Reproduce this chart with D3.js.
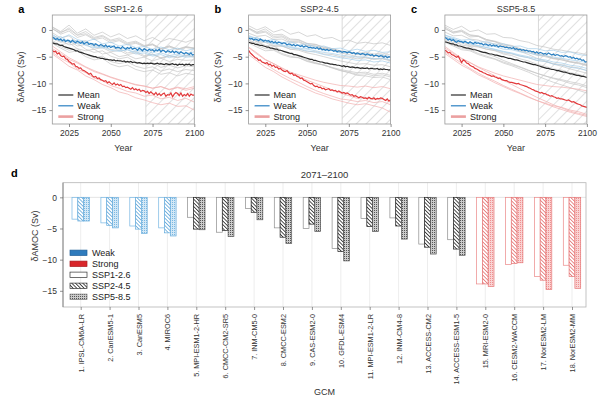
<!DOCTYPE html>
<html>
<head>
<meta charset="utf-8">
<script src="https://cdn.jsdelivr.net/npm/d3@7"></script>
<style>
body { margin: 0; background: #fff; }
svg { font-family: "Liberation Sans", Arial, sans-serif; }
</style>
</head>
<body>
<div id="chart"></div>
<script>
// ---------- data ----------
const years = d3.range(2015, 2101);
const modelYears = [2015,2020,2025,2030,2035,2040,2045,2050,2055,2060,2065,2070,2075,2080,2085,2090,2095,2100];
const scenarios = ["SSP1-2.6", "SSP2-4.5", "SSP5-8.5"];
const panelLetters = ["a", "b", "c"];
const yTicks = [0, -5, -10, -15];
const yearTicks = [2025, 2050, 2075, 2100];

const meanSsp126 = [-2.4,-2.5,-2.6,-2.6,-2.8,-2.9,-2.9,-3.1,-3.2,-3.3,
  -3.4,-3.5,-3.6,-3.7,-3.9,-3.9,-4.1,-4.2,-4.3,-4.4,
  -4.5,-4.6,-4.7,-4.8,-4.9,-5.0,-5.0,-5.2,-5.2,-5.3,
  -5.3,-5.4,-5.5,-5.5,-5.6,-5.6,-5.7,-5.6,-5.8,-5.7,
  -5.8,-5.8,-5.9,-5.8,-6.0,-5.9,-6.0,-5.9,-6.1,-6.0,
  -6.1,-6.2,-6.1,-6.2,-6.3,-6.2,-6.3,-6.2,-6.3,-6.2,
  -6.3,-6.4,-6.3,-6.2,-6.4,-6.3,-6.4,-6.5,-6.3,-6.4,
  -6.5,-6.4,-6.3,-6.5,-6.4,-6.6,-6.4,-6.5,-6.4,-6.6,
  -6.4,-6.5,-6.4,-6.6,-6.5,-6.5];
const weakSsp126 = [-1.3,-1.5,-1.8,-1.6,-1.9,-1.7,-2.0,-1.8,-2.2,-1.9,
  -2.0,-2.3,-1.9,-2.2,-2.4,-2.1,-2.3,-2.5,-2.2,-2.6,
  -2.4,-2.3,-2.7,-2.5,-2.6,-2.9,-2.6,-2.8,-3.0,-2.7,
  -2.9,-3.1,-2.8,-3.2,-3.0,-3.3,-3.1,-3.0,-3.4,-3.2,
  -3.3,-3.5,-3.1,-3.4,-3.6,-3.3,-3.5,-3.2,-3.6,-3.4,
  -3.5,-3.8,-3.4,-3.6,-3.9,-3.5,-3.7,-3.9,-3.6,-3.8,
  -3.7,-4.0,-3.7,-3.9,-3.6,-4.1,-3.8,-3.9,-4.2,-3.9,
  -4.0,-4.2,-3.9,-4.3,-4.0,-4.2,-4.4,-4.1,-4.3,-4.5,
  -4.2,-4.4,-4.6,-4.3,-4.7,-4.6];
const strongSsp126 = [-3.8,-4.1,-4.0,-4.5,-4.3,-4.8,-5.0,-4.9,-5.4,-5.5,
  -5.9,-6.1,-6.4,-6.3,-6.8,-6.9,-7.2,-7.1,-7.5,-7.6,
  -7.8,-8.0,-8.3,-8.1,-8.6,-8.8,-8.7,-9.1,-9.0,-9.3,
  -9.4,-9.6,-9.5,-9.9,-9.7,-10.0,-10.2,-9.9,-10.3,-10.1,
  -10.4,-10.2,-10.6,-10.5,-10.8,-10.7,-10.9,-11.1,-10.8,-11.2,
  -11.0,-11.3,-11.1,-11.5,-11.3,-11.4,-11.7,-11.5,-11.9,-11.6,
  -11.9,-12.1,-11.7,-12.2,-11.9,-12.3,-12.0,-11.8,-12.4,-12.1,
  -12.2,-11.8,-12.5,-12.0,-11.7,-11.9,-12.3,-11.8,-12.4,-12.1,
  -12.3,-11.9,-12.4,-12.0,-12.2,-12.2];

const meanSsp245 = [-2.3,-2.4,-2.5,-2.5,-2.7,-2.7,-2.8,-2.9,-2.9,-3.0,
  -3.1,-3.2,-3.2,-3.4,-3.4,-3.5,-3.6,-3.6,-3.8,-3.8,
  -3.9,-4.0,-4.1,-4.2,-4.3,-4.4,-4.4,-4.6,-4.6,-4.7,
  -4.8,-4.9,-5.0,-5.1,-5.2,-5.3,-5.4,-5.5,-5.5,-5.7,
  -5.7,-5.8,-5.9,-6.0,-6.0,-6.1,-6.2,-6.2,-6.3,-6.4,
  -6.4,-6.5,-6.5,-6.6,-6.6,-6.7,-6.8,-6.7,-6.9,-6.8,
  -6.9,-7.0,-6.9,-7.0,-7.1,-7.0,-7.1,-7.2,-7.1,-7.2,
  -7.2,-7.1,-7.3,-7.2,-7.2,-7.3,-7.3,-7.2,-7.4,-7.3,
  -7.4,-7.3,-7.4,-7.4,-7.5,-7.4];
const weakSsp245 = [-1.5,-1.7,-1.6,-1.9,-1.7,-1.8,-2.0,-1.7,-1.9,-2.1,
  -1.9,-2.1,-2.0,-2.3,-2.1,-2.4,-2.2,-2.5,-2.3,-2.4,
  -2.6,-2.4,-2.5,-2.8,-2.6,-2.7,-2.9,-2.7,-3.0,-2.8,
  -2.9,-3.1,-2.9,-3.2,-3.0,-3.1,-3.3,-3.2,-3.4,-3.3,
  -3.5,-3.3,-3.6,-3.4,-3.7,-3.6,-3.8,-3.6,-3.9,-3.7,
  -3.8,-4.0,-3.8,-4.1,-3.9,-4.0,-4.2,-4.0,-4.1,-4.3,
  -4.1,-4.2,-4.4,-4.2,-4.5,-4.3,-4.4,-4.6,-4.4,-4.5,
  -4.7,-4.5,-4.6,-4.8,-4.6,-4.9,-4.7,-4.8,-5.0,-4.8,
  -4.9,-5.1,-4.9,-5.2,-5.0,-5.1];
const strongSsp245 = [-3.8,-4.3,-4.6,-4.9,-5.2,-5.3,-5.7,-5.6,-6.0,-6.1,
  -6.3,-6.1,-6.5,-6.4,-6.8,-6.6,-7.0,-6.9,-7.3,-7.2,
  -7.5,-7.7,-7.8,-7.6,-8.0,-8.2,-8.1,-8.5,-8.4,-8.7,
  -8.8,-9.1,-9.0,-9.4,-9.5,-9.7,-9.9,-10.1,-10.0,-10.4,
  -10.6,-10.5,-10.8,-10.7,-11.0,-10.9,-11.2,-11.1,-11.0,-11.3,
  -11.2,-11.4,-11.3,-11.6,-11.4,-11.6,-11.8,-11.7,-11.9,-11.8,
  -12.0,-12.2,-12.1,-12.4,-12.3,-12.5,-12.7,-12.5,-12.6,-12.8,
  -12.7,-12.9,-12.6,-12.8,-12.9,-12.7,-13.0,-12.8,-12.9,-12.7,
  -12.8,-13.0,-13.2,-12.9,-13.3,-13.1];

const meanSsp585 = [-2.2,-2.3,-2.4,-2.5,-2.6,-2.6,-2.8,-2.8,-3.0,-3.0,
  -3.1,-3.2,-3.3,-3.4,-3.4,-3.5,-3.6,-3.7,-3.7,-3.8,
  -3.9,-4.0,-4.1,-4.2,-4.2,-4.3,-4.4,-4.5,-4.5,-4.6,
  -4.7,-4.7,-4.8,-4.9,-5.0,-5.0,-5.1,-5.2,-5.3,-5.3,
  -5.4,-5.5,-5.6,-5.6,-5.7,-5.8,-5.9,-6.0,-6.0,-6.1,
  -6.2,-6.3,-6.4,-6.5,-6.5,-6.6,-6.7,-6.8,-6.9,-7.0,
  -7.1,-7.2,-7.2,-7.3,-7.4,-7.4,-7.5,-7.6,-7.6,-7.7,
  -7.8,-7.9,-7.9,-8.0,-8.1,-8.2,-8.2,-8.3,-8.4,-8.5,
  -8.5,-8.6,-8.7,-8.7,-8.8,-8.9];
const weakSsp585 = [-1.4,-1.6,-1.9,-1.7,-2.0,-1.8,-2.1,-2.3,-2.0,-2.2,
  -2.2,-2.4,-2.1,-2.3,-2.5,-2.2,-2.4,-2.6,-2.3,-2.5,
  -2.4,-2.6,-2.5,-2.8,-2.6,-2.7,-2.9,-2.7,-3.0,-2.8,
  -3.0,-2.9,-3.2,-3.0,-3.1,-3.1,-3.3,-3.2,-3.4,-3.3,
  -3.5,-3.3,-3.6,-3.5,-3.7,-3.6,-3.8,-3.7,-3.9,-3.8,
  -4.0,-3.9,-4.1,-4.0,-4.3,-4.1,-4.4,-4.2,-4.3,-4.5,
  -4.4,-4.6,-4.3,-4.5,-4.7,-4.5,-4.8,-4.6,-4.7,-4.9,
  -4.8,-5.0,-4.8,-4.9,-5.1,-5.0,-5.3,-5.1,-5.4,-5.3,
  -5.5,-5.4,-5.7,-5.6,-6.0,-5.9];
const strongSsp585 = [-3.8,-4.0,-4.3,-4.2,-4.6,-4.7,-4.9,-5.1,-4.9,-5.5,
  -6.1,-5.6,-5.8,-6.2,-6.3,-6.6,-6.8,-6.9,-7.2,-7.3,
  -7.5,-7.7,-7.8,-8.0,-8.1,-8.3,-8.4,-8.5,-8.7,-8.6,
  -8.8,-8.9,-9.1,-9.0,-9.3,-9.4,-9.5,-9.5,-9.7,-9.8,
  -9.8,-9.9,-10.0,-10.1,-10.0,-10.2,-10.3,-10.4,-10.5,-10.6,
  -10.8,-10.9,-11.1,-11.2,-11.4,-11.5,-11.6,-11.8,-11.7,-11.9,
  -11.9,-12.1,-12.2,-12.4,-12.3,-12.5,-12.6,-12.8,-12.7,-12.9,
  -12.9,-13.0,-13.1,-13.2,-13.1,-13.3,-13.5,-13.4,-13.6,-13.8,
  -13.9,-14.0,-14.2,-14.3,-14.4,-14.5];

// single models, every 5 years (same order as gcmNames)
const modelsSsp126 = [
  [-1.0,-1.6,-0.9,-1.8,-2.2,-1.7,-2.6,-2.3,-3.0,-2.7,-3.3,-3.1,-3.6,-3.2,-3.7,-3.4,-3.9,-3.5],
  [-1.8,-1.2,-2.3,-2.0,-2.8,-2.5,-3.2,-2.9,-3.6,-3.3,-3.9,-3.7,-4.3,-3.8,-4.2,-4.0,-4.4,-4.1],
  [-1.5,-2.1,-1.9,-2.6,-2.4,-3.1,-3.4,-3.0,-3.9,-3.7,-4.2,-4.0,-4.7,-4.3,-4.8,-4.5,-4.9,-4.6],
  [-0.8,-1.9,-2.2,-2.0,-2.9,-3.3,-3.1,-3.8,-4.0,-3.7,-4.5,-4.3,-4.9,-4.6,-5.2,-4.8,-5.1,-5.0],
  [0.3,-0.8,-0.2,-1.4,-0.9,-1.8,-1.5,-2.4,-2.0,-2.8,-2.5,-3.1,-2.7,-3.5,-3.0,-3.6,-3.2,-3.4],
  [-2.0,-2.8,-2.4,-3.5,-3.9,-3.6,-4.5,-4.2,-5.0,-4.7,-5.4,-5.1,-5.8,-5.3,-5.9,-5.5,-5.7,-5.6],
  [0.6,-0.3,0.9,-0.6,0.2,-1.0,-0.4,-1.3,-0.7,-1.6,-1.1,-2.0,-1.4,-2.2,-1.6,-1.9,-2.3,-1.7],
  [-1.6,-2.3,-2.0,-3.0,-2.7,-3.6,-3.3,-4.1,-3.8,-4.6,-4.3,-5.0,-4.6,-5.2,-4.8,-5.1,-4.7,-5.0],
  [-0.5,-1.5,-1.1,-2.3,-2.0,-3.0,-2.8,-3.7,-3.4,-4.3,-4.0,-4.8,-4.5,-5.3,-4.9,-5.2,-4.8,-5.1],
  [-2.5,-3.4,-4.2,-3.9,-5.0,-5.6,-5.3,-6.4,-6.9,-6.6,-7.4,-7.8,-7.5,-8.3,-8.0,-8.6,-8.1,-8.4],
  [0.5,-0.4,0.1,-1.0,-0.7,-1.6,-1.2,-2.1,-1.8,-2.6,-2.3,-3.0,-2.8,-3.6,-3.2,-3.7,-3.3,-3.5],
  [0.2,-0.6,0.4,-0.9,-0.3,-1.4,-1.0,-1.9,-1.5,-2.4,-2.1,-2.9,-2.6,-3.5,-3.0,-3.6,-3.1,-3.4],
  [-2.2,-3.1,-3.8,-3.5,-4.6,-5.2,-4.9,-5.9,-6.3,-6.0,-6.8,-7.2,-6.9,-7.7,-7.3,-7.8,-7.4,-7.6],
  [-1.2,-2.0,-2.8,-2.5,-3.6,-4.2,-3.9,-4.9,-5.4,-5.1,-6.0,-6.4,-6.1,-7.0,-6.6,-7.1,-6.7,-6.9],
  [-4.5,-5.6,-6.8,-7.5,-8.6,-9.3,-10.2,-10.8,-11.6,-12.0,-12.7,-13.1,-13.6,-14.0,-13.7,-14.3,-14.2,-15.0],
  [-3.5,-4.4,-5.5,-6.2,-7.0,-7.8,-8.3,-8.9,-9.4,-9.8,-10.3,-10.5,-10.9,-10.6,-11.1,-10.7,-11.0,-10.6],
  [-4.2,-5.3,-6.1,-7.3,-8.0,-9.0,-9.5,-10.4,-10.9,-11.5,-11.8,-12.4,-12.2,-12.9,-12.6,-13.2,-12.8,-13.5],
  [-3.0,-4.1,-5.2,-6.0,-6.9,-7.6,-8.2,-8.8,-9.3,-9.8,-10.2,-10.5,-10.9,-10.6,-11.2,-10.8,-11.3,-10.9]
];
const modelsSsp245 = [
  [-1.2,-1.5,-2.0,-1.8,-2.4,-2.2,-2.8,-2.6,-3.2,-3.0,-3.5,-3.4,-3.9,-3.6,-4.0,-3.8,-4.2,-4.1],
  [-1.6,-1.4,-2.2,-2.5,-2.3,-3.0,-2.9,-3.5,-3.3,-3.9,-3.8,-4.3,-4.1,-4.6,-4.4,-4.8,-4.6,-5.0],
  [-1.4,-2.0,-1.9,-2.6,-2.8,-3.2,-3.4,-3.6,-3.9,-4.2,-4.4,-4.7,-4.9,-5.1,-5.0,-5.4,-5.3,-5.6],
  [-1.0,-1.8,-2.3,-2.4,-3.0,-3.3,-3.6,-3.9,-4.2,-4.6,-4.9,-5.2,-5.4,-5.7,-5.6,-6.0,-5.8,-6.2],
  [0.2,-0.7,-0.4,-1.5,-1.3,-2.2,-2.1,-2.9,-3.0,-3.6,-3.8,-4.3,-4.6,-5.0,-5.2,-5.4,-5.3,-5.7],
  [-1.9,-2.5,-2.3,-3.1,-3.0,-3.6,-3.5,-4.1,-4.0,-4.5,-4.6,-5.0,-5.1,-5.4,-5.2,-5.5,-5.4,-5.8],
  [0.8,0.0,0.6,-0.4,0.1,-0.8,-0.4,-1.2,-0.9,-1.6,-1.4,-2.1,-1.9,-2.5,-2.3,-2.6,-2.4,-2.9],
  [-1.4,-2.2,-2.0,-2.9,-3.0,-3.6,-3.8,-4.3,-4.6,-5.0,-5.4,-5.8,-6.1,-6.4,-6.3,-6.6,-6.5,-6.9],
  [-0.6,-1.2,-1.0,-1.8,-1.7,-2.4,-2.3,-2.9,-3.0,-3.5,-3.6,-4.0,-4.1,-4.4,-4.2,-4.5,-4.3,-4.7],
  [-2.4,-3.2,-3.9,-3.8,-4.6,-5.1,-5.2,-5.9,-6.3,-6.5,-7.1,-7.6,-8.0,-8.5,-8.6,-8.9,-8.8,-9.3],
  [0.4,-0.5,-0.2,-1.2,-1.1,-1.9,-1.9,-2.6,-2.7,-3.3,-3.5,-4.0,-4.2,-4.6,-4.7,-4.9,-4.8,-5.2],
  [0.3,-0.4,0.2,-0.9,-0.8,-1.7,-1.8,-2.5,-2.7,-3.2,-3.5,-3.9,-4.2,-4.5,-4.6,-4.8,-4.7,-5.1],
  [-2.0,-2.9,-3.5,-3.6,-4.4,-4.9,-5.2,-5.8,-6.2,-6.6,-7.0,-7.4,-7.7,-8.0,-7.9,-8.3,-8.1,-8.5],
  [-1.3,-2.2,-2.9,-3.0,-3.9,-4.5,-4.9,-5.6,-6.1,-6.6,-7.1,-7.6,-7.9,-8.3,-8.2,-8.6,-8.4,-8.8],
  [-4.6,-5.8,-7.0,-7.8,-8.8,-9.6,-10.4,-11.1,-11.8,-12.3,-12.9,-13.3,-13.7,-14.0,-13.8,-14.2,-14.6,-15.4],
  [-3.3,-4.5,-5.6,-6.3,-7.1,-7.9,-8.4,-8.9,-9.4,-9.8,-10.1,-10.4,-10.5,-10.7,-10.5,-10.8,-10.6,-11.0],
  [-4.0,-5.4,-6.3,-7.4,-8.3,-9.1,-9.8,-10.6,-11.3,-11.9,-12.4,-12.9,-13.1,-13.4,-13.2,-13.6,-13.4,-14.0],
  [-3.2,-4.3,-5.5,-6.3,-7.2,-8.0,-8.7,-9.4,-10.0,-10.6,-11.2,-11.8,-12.3,-12.8,-12.6,-13.0,-12.9,-13.5]
];
const modelsSsp585 = [
  [-1.0,-1.4,-1.9,-1.8,-2.3,-2.2,-2.7,-2.6,-3.1,-3.0,-3.5,-3.5,-3.9,-3.8,-4.2,-4.1,-4.6,-4.8],
  [-1.5,-1.6,-2.2,-2.4,-2.5,-3.0,-3.1,-3.6,-3.7,-4.1,-4.3,-4.7,-4.8,-5.1,-5.3,-5.6,-5.8,-6.1],
  [-1.3,-1.9,-2.1,-2.6,-2.9,-3.3,-3.6,-4.0,-4.3,-4.7,-5.0,-5.4,-5.6,-6.0,-6.2,-6.6,-6.8,-7.2],
  [-0.9,-1.7,-2.2,-2.5,-3.0,-3.3,-3.7,-4.1,-4.4,-4.9,-5.2,-5.7,-5.9,-6.4,-6.6,-7.0,-7.2,-7.6],
  [0.4,-0.6,-0.3,-1.3,-1.2,-2.0,-2.2,-2.8,-3.0,-3.6,-3.9,-4.5,-4.8,-5.3,-5.4,-5.9,-6.1,-6.5],
  [-1.8,-2.4,-2.4,-3.0,-3.2,-3.6,-3.8,-4.3,-4.5,-4.9,-5.2,-5.7,-5.9,-6.3,-6.5,-6.9,-7.1,-7.6],
  [0.9,0.1,0.7,-0.3,0.0,-0.8,-0.7,-1.4,-1.5,-2.0,-2.3,-2.9,-3.2,-3.6,-3.8,-4.1,-4.3,-4.6],
  [-1.3,-2.0,-2.1,-2.8,-3.1,-3.6,-3.9,-4.5,-4.8,-5.4,-5.8,-6.4,-6.8,-7.3,-7.5,-8.0,-8.3,-8.8],
  [-0.4,-1.1,-1.0,-1.7,-1.9,-2.4,-2.6,-3.1,-3.4,-3.9,-4.2,-4.7,-5.0,-5.4,-5.6,-6.0,-6.2,-6.6],
  [-2.3,-3.0,-3.7,-3.9,-4.6,-5.1,-5.5,-6.2,-6.7,-7.3,-7.9,-8.6,-9.2,-9.8,-10.3,-10.8,-11.3,-11.8],
  [0.6,-0.3,-0.2,-1.0,-1.2,-1.8,-2.1,-2.6,-2.9,-3.5,-3.9,-4.5,-4.8,-5.3,-5.6,-6.0,-6.3,-6.7],
  [0.2,-0.5,0.0,-0.9,-1.1,-1.8,-2.2,-2.9,-3.4,-4.0,-4.6,-5.3,-5.8,-6.4,-6.8,-7.3,-7.7,-8.1],
  [-2.0,-2.8,-3.4,-3.7,-4.4,-4.9,-5.4,-6.0,-6.5,-7.0,-7.6,-8.1,-8.6,-9.0,-9.3,-9.7,-10.0,-10.5],
  [-1.2,-2.1,-2.8,-3.1,-3.9,-4.5,-5.0,-5.7,-6.3,-6.9,-7.5,-8.1,-8.6,-9.1,-9.5,-10.0,-10.3,-10.8],
  [-4.4,-5.5,-6.6,-7.4,-8.4,-9.1,-9.9,-10.6,-11.3,-11.9,-12.6,-13.2,-13.7,-14.2,-14.5,-15.0,-15.3,-15.8],
  [-3.4,-4.4,-5.4,-6.1,-6.9,-7.5,-8.1,-8.6,-9.0,-9.4,-9.8,-10.2,-10.4,-10.6,-10.7,-10.9,-11.1,-11.4],
  [-4.1,-5.2,-6.2,-7.2,-8.1,-8.9,-9.6,-10.4,-11.1,-11.8,-12.5,-13.2,-13.8,-14.4,-14.9,-15.4,-15.8,-16.2],
  [-3.1,-4.2,-5.3,-6.1,-7.0,-7.8,-8.6,-9.4,-10.2,-11.0,-11.8,-12.6,-13.3,-14.0,-14.6,-15.2,-15.6,-16.0]
];

// panel d: 2071-2100 mean per GCM
const gcmNames = ["1. IPSL-CM6A-LR", "2. CanESM5-1", "3. CanESM5", "4. MIROC6", "5. MPI-ESM1-2-HR",
  "6. CMCC-CM2-SR5", "7. INM-CM5-0", "8. CMCC-ESM2", "9. CAS-ESM2-0", "10. GFDL-ESM4",
  "11. MPI-ESM1-2-LR", "12. INM-CM4-8", "13. ACCESS-CM2", "14. ACCESS-ESM1-5", "15. MRI-ESM2-0",
  "16. CESM2-WACCM", "17. NorESM2-LM", "18. NorESM2-MM"];
const gcmGroup = ["weak","weak","weak","weak","mid","mid","mid","mid","mid","mid",
  "mid","mid","mid","mid","strong","strong","strong","strong"];
const barSsp126 = [-3.5,-4.1,-4.6,-4.9,-3.2,-5.6,-1.8,-4.9,-5.0,-8.2,-3.4,-3.3,-7.5,-6.8,-13.9,-10.8,-12.7,-10.9];
const barSsp245 = [-3.8,-4.5,-5.1,-5.7,-5.1,-5.3,-2.4,-6.4,-4.3,-8.7,-4.7,-4.6,-8.0,-8.3,-13.9,-10.6,-13.3,-12.7];
const barSsp585 = [-3.8,-4.9,-5.8,-6.2,-5.2,-6.3,-3.6,-7.4,-5.5,-10.2,-5.5,-6.7,-9.1,-9.3,-14.3,-10.5,-14.8,-14.6];

// ---------- drawing ----------
const W = 606, H = 396;
const svg = d3.select("#chart").append("svg")
  .attr("width", W).attr("height", H)
  .style("background", "#fff");
const defs = svg.append("defs");

const faint = { weak: "#a6cee9", mid: "#c5c5c5", strong: "#f2afaf" };
const barLine = { weak: "#76b6e2", mid: "#8c8c8c", strong: "#ec8888" };
const hatchLine = { weak: "#5fa6d9", mid: "#222", strong: "#e36d6d" };
const dotBg = { weak: "#d3e8f6", mid: "#cbcbcb", strong: "#f9d3d3" };
const dotFg = { weak: "#7ab7e1", mid: "#555", strong: "#ee9090" };
const hatchEdge = { weak: "#6aaedd", mid: "#222", strong: "#e67777" };
const dotEdge = { weak: "#6aaedd", mid: "#555", strong: "#e67777" };

// pattern for the 2071-2100 window
let per = defs.append("pattern").attr("id", "period")
  .attr("patternUnits", "userSpaceOnUse")
  .attr("width", 7).attr("height", 7)
  .attr("patternTransform", "rotate(45)");
per.append("line").attr("x1", 3.5).attr("y1", 0).attr("x2", 3.5).attr("y2", 7)
  .attr("stroke", "#d2d2d2").attr("stroke-width", 0.7);

Object.keys(hatchLine).forEach(k => {
  let h = defs.append("pattern").attr("id", "hatch-" + k)
    .attr("patternUnits", "userSpaceOnUse")
    .attr("width", 2.6).attr("height", 2.6)
    .attr("patternTransform", "rotate(-45)");
  h.append("rect").attr("width", 2.6).attr("height", 2.6).attr("fill", "#fff");
  h.append("line").attr("x1", 1.3).attr("y1", 0).attr("x2", 1.3).attr("y2", 2.6)
    .attr("stroke", hatchLine[k]).attr("stroke-width", 0.8);
  let dp = defs.append("pattern").attr("id", "dots-" + k)
    .attr("patternUnits", "userSpaceOnUse")
    .attr("width", 2).attr("height", 2);
  dp.append("rect").attr("width", 2).attr("height", 2).attr("fill", dotBg[k]);
  dp.append("rect").attr("width", 1).attr("height", 1).attr("fill", dotFg[k]);
});

function styleAxis(g) {
  g.select(".domain").remove();
  g.selectAll(".tick line").attr("stroke", "#666").attr("stroke-width", 0.7);
  g.selectAll(".tick text").attr("fill", "#333").style("font-size", "8.5px");
}

// ---- panels a-c ----
const panelData = [
  { mean: meanSsp126, weak: weakSsp126, strong: strongSsp126, models: modelsSsp126 },
  { mean: meanSsp245, weak: weakSsp245, strong: strongSsp245, models: modelsSsp245 },
  { mean: meanSsp585, weak: weakSsp585, strong: strongSsp585, models: modelsSsp585 }
];
const pTop = 15, pBottom = 124, pWidth = 142;
const yTop = d3.scaleLinear().domain([-17.6, 2.8]).range([pBottom, pTop]);

panelData.forEach((p, i) => {
  let left = 52.3 + i * 196.3;
  let x = d3.scaleLinear().domain([2015, 2100]).range([left, left + pWidth]);
  let g = svg.append("g");

  defs.append("clipPath").attr("id", "clip" + i)
    .append("rect").attr("x", left).attr("y", pTop)
    .attr("width", pWidth).attr("height", pBottom - pTop);

  g.append("rect")
    .attr("x", x(2071)).attr("y", pTop)
    .attr("width", x(2100) - x(2071)).attr("height", pBottom - pTop)
    .attr("fill", "url(#period)");
  g.append("line")
    .attr("x1", x(2071)).attr("x2", x(2071))
    .attr("y1", pTop).attr("y2", pBottom)
    .attr("stroke", "#cfcfcf").attr("stroke-width", 0.8);

  let plot = g.append("g").attr("clip-path", "url(#clip" + i + ")");
  let modelLine = d3.line()
    .x((d, j) => x(modelYears[j]))
    .y(d => yTop(d));
  let order = ["mid", "weak", "strong"];
  order.forEach(grp => {
    p.models.forEach((m, k) => {
      if (gcmGroup[k] !== grp) return;
      plot.append("path")
        .attr("d", modelLine(m))
        .attr("fill", "none")
        .attr("stroke", faint[grp])
        .attr("stroke-width", 0.7);
    });
  });

  let mainLine = d3.line()
    .x((d, j) => x(years[j]))
    .y(d => yTop(d));
  plot.append("path").attr("d", mainLine(p.mean))
    .attr("fill", "none").attr("stroke", "#2b2b2b").attr("stroke-width", 1.2);
  plot.append("path").attr("d", mainLine(p.weak))
    .attr("fill", "none").attr("stroke", "#2b80c2").attr("stroke-width", 1.2);
  plot.append("path").attr("d", mainLine(p.strong))
    .attr("fill", "none").attr("stroke", "#e23a3c").attr("stroke-width", 1.2);

  // frame
  g.append("rect")
    .attr("x", left).attr("y", pTop)
    .attr("width", pWidth).attr("height", pBottom - pTop)
    .attr("fill", "none").attr("stroke", "#9a9a9a").attr("stroke-width", 0.8);

  g.append("g")
    .attr("transform", "translate(" + left + ",0)")
    .call(d3.axisLeft(yTop).tickValues(yTicks).tickSize(3).tickPadding(3))
    .call(styleAxis);
  g.append("g")
    .attr("transform", "translate(0," + pBottom + ")")
    .call(d3.axisBottom(x).tickValues(yearTicks).tickSize(3).tickPadding(3).tickFormat(d3.format("d")))
    .call(styleAxis);

  // legend
  let leg = [
    { label: "Mean", color: "#2b2b2b", w: 1.2 },
    { label: "Weak", color: "#2b80c2", w: 1.2 },
    { label: "Strong", color: "#eba0a0", w: 2.6 }
  ];
  leg.forEach((l, j) => {
    let ly = 95 + j * 10.8;
    g.append("line")
      .attr("x1", left + 6).attr("x2", left + 21)
      .attr("y1", ly).attr("y2", ly)
      .attr("stroke", l.color).attr("stroke-width", l.w);
    g.append("text")
      .attr("x", left + 25).attr("y", ly + 3.2)
      .attr("fill", "#222").style("font-size", "9px")
      .text(l.label);
  });

  g.append("text")
    .attr("x", left + pWidth / 2).attr("y", 11.5)
    .attr("text-anchor", "middle")
    .attr("fill", "#333").style("font-size", "9px")
    .text(scenarios[i]);
  g.append("text")
    .attr("x", left - 34).attr("y", 13)
    .attr("fill", "#000").style("font-size", "11px").style("font-weight", "bold")
    .text(panelLetters[i]);
  g.append("text")
    .attr("transform", "translate(" + (left - 28) + ",77) rotate(-90)")
    .attr("text-anchor", "middle")
    .attr("fill", "#333").style("font-size", "9px")
    .text("δAMOC (Sv)");
  g.append("text")
    .attr("x", left + pWidth / 2).attr("y", 151)
    .attr("text-anchor", "middle")
    .attr("fill", "#333").style("font-size", "9px")
    .text("Year");
});

// ---- panel d ----
const dLeft = 63, dRight = 586, dTop = 182.7, dBottom = 307;
const bx = d3.scalePoint().domain(gcmNames).range([80.7, 572]);
const inner = d3.scaleBand().domain(scenarios).range([-8.7, 8.7]);
const by = d3.scaleLinear().domain([-17.6, 2.35]).range([dBottom, dTop]);
const barValues = [barSsp126, barSsp245, barSsp585];

let gd = svg.append("g");
gcmNames.forEach(n => {
  gd.append("line")
    .attr("x1", bx(n)).attr("x2", bx(n))
    .attr("y1", dTop).attr("y2", dBottom)
    .attr("stroke", "#e8e8e8").attr("stroke-width", 0.8);
});
gd.append("line")
  .attr("x1", dLeft).attr("x2", dRight)
  .attr("y1", by(0)).attr("y2", by(0))
  .attr("stroke", "#dcdcdc").attr("stroke-width", 0.8);

gcmNames.forEach((n, i) => {
  let grp = gcmGroup[i];
  scenarios.forEach((s, j) => {
    let v = barValues[j][i];
    let fill = j === 0 ? "#fff" : (j === 1 ? "url(#hatch-" + grp + ")" : "url(#dots-" + grp + ")");
    let edge = j === 0 ? barLine[grp] : (j === 1 ? hatchEdge[grp] : dotEdge[grp]);
    gd.append("rect")
      .attr("x", bx(n) + inner(s))
      .attr("y", by(0))
      .attr("width", inner.bandwidth())
      .attr("height", by(v) - by(0))
      .attr("fill", fill)
      .attr("stroke", edge)
      .attr("stroke-width", 0.7);
  });
});

gd.append("rect")
  .attr("x", dLeft).attr("y", dTop)
  .attr("width", dRight - dLeft).attr("height", dBottom - dTop)
  .attr("fill", "none").attr("stroke", "#b5b5b5").attr("stroke-width", 0.8);
gd.append("line")
  .attr("x1", dLeft).attr("x2", dLeft).attr("y1", dTop).attr("y2", dBottom)
  .attr("stroke", "#777").attr("stroke-width", 0.8);

gd.append("g")
  .attr("transform", "translate(" + dLeft + ",0)")
  .call(d3.axisLeft(by).tickValues(yTicks).tickSize(3).tickPadding(3))
  .call(styleAxis);

let xa = gd.append("g")
  .attr("transform", "translate(0," + dBottom + ")")
  .call(d3.axisBottom(bx).tickSize(3).tickPadding(3))
  .call(styleAxis);
xa.selectAll(".tick text")
  .attr("transform", "rotate(-90)")
  .attr("text-anchor", "end")
  .attr("x", -7).attr("y", 0).attr("dy", "0.35em")
  .style("font-size", "7.3px");

// legend d
const legD = [
  { label: "Weak", fill: "#2e7bbd", edge: "#1f5f99" },
  { label: "Strong", fill: "#d9262a", edge: "#a81a1d" },
  { label: "SSP1-2.6", fill: "#fff", edge: "#333" },
  { label: "SSP2-4.5", fill: "url(#hatch-mid)", edge: "#333" },
  { label: "SSP5-8.5", fill: "url(#dots-mid)", edge: "#777" }
];
legD.forEach((l, j) => {
  let ly = 252.8 + j * 11;
  gd.append("rect")
    .attr("x", 70).attr("y", ly - 2.7)
    .attr("width", 17).attr("height", 5.4)
    .attr("fill", l.fill).attr("stroke", l.edge).attr("stroke-width", 0.7);
  gd.append("text")
    .attr("x", 92).attr("y", ly + 3.2)
    .attr("fill", "#222").style("font-size", "9px")
    .text(l.label);
});

gd.append("text")
  .attr("x", (dLeft + dRight) / 2).attr("y", 178)
  .attr("text-anchor", "middle")
  .attr("fill", "#333").style("font-size", "9.5px")
  .text("2071–2100");
gd.append("text")
  .attr("x", 11).attr("y", 177)
  .attr("fill", "#000").style("font-size", "11px").style("font-weight", "bold")
  .text("d");
gd.append("text")
  .attr("transform", "translate(38,236) rotate(-90)")
  .attr("text-anchor", "middle")
  .attr("fill", "#333").style("font-size", "9px")
  .text("δAMOC (Sv)");
gd.append("text")
  .attr("x", (dLeft + dRight) / 2).attr("y", 394.5)
  .attr("text-anchor", "middle")
  .attr("fill", "#333").style("font-size", "9px")
  .text("GCM");
</script>
</body>
</html>
